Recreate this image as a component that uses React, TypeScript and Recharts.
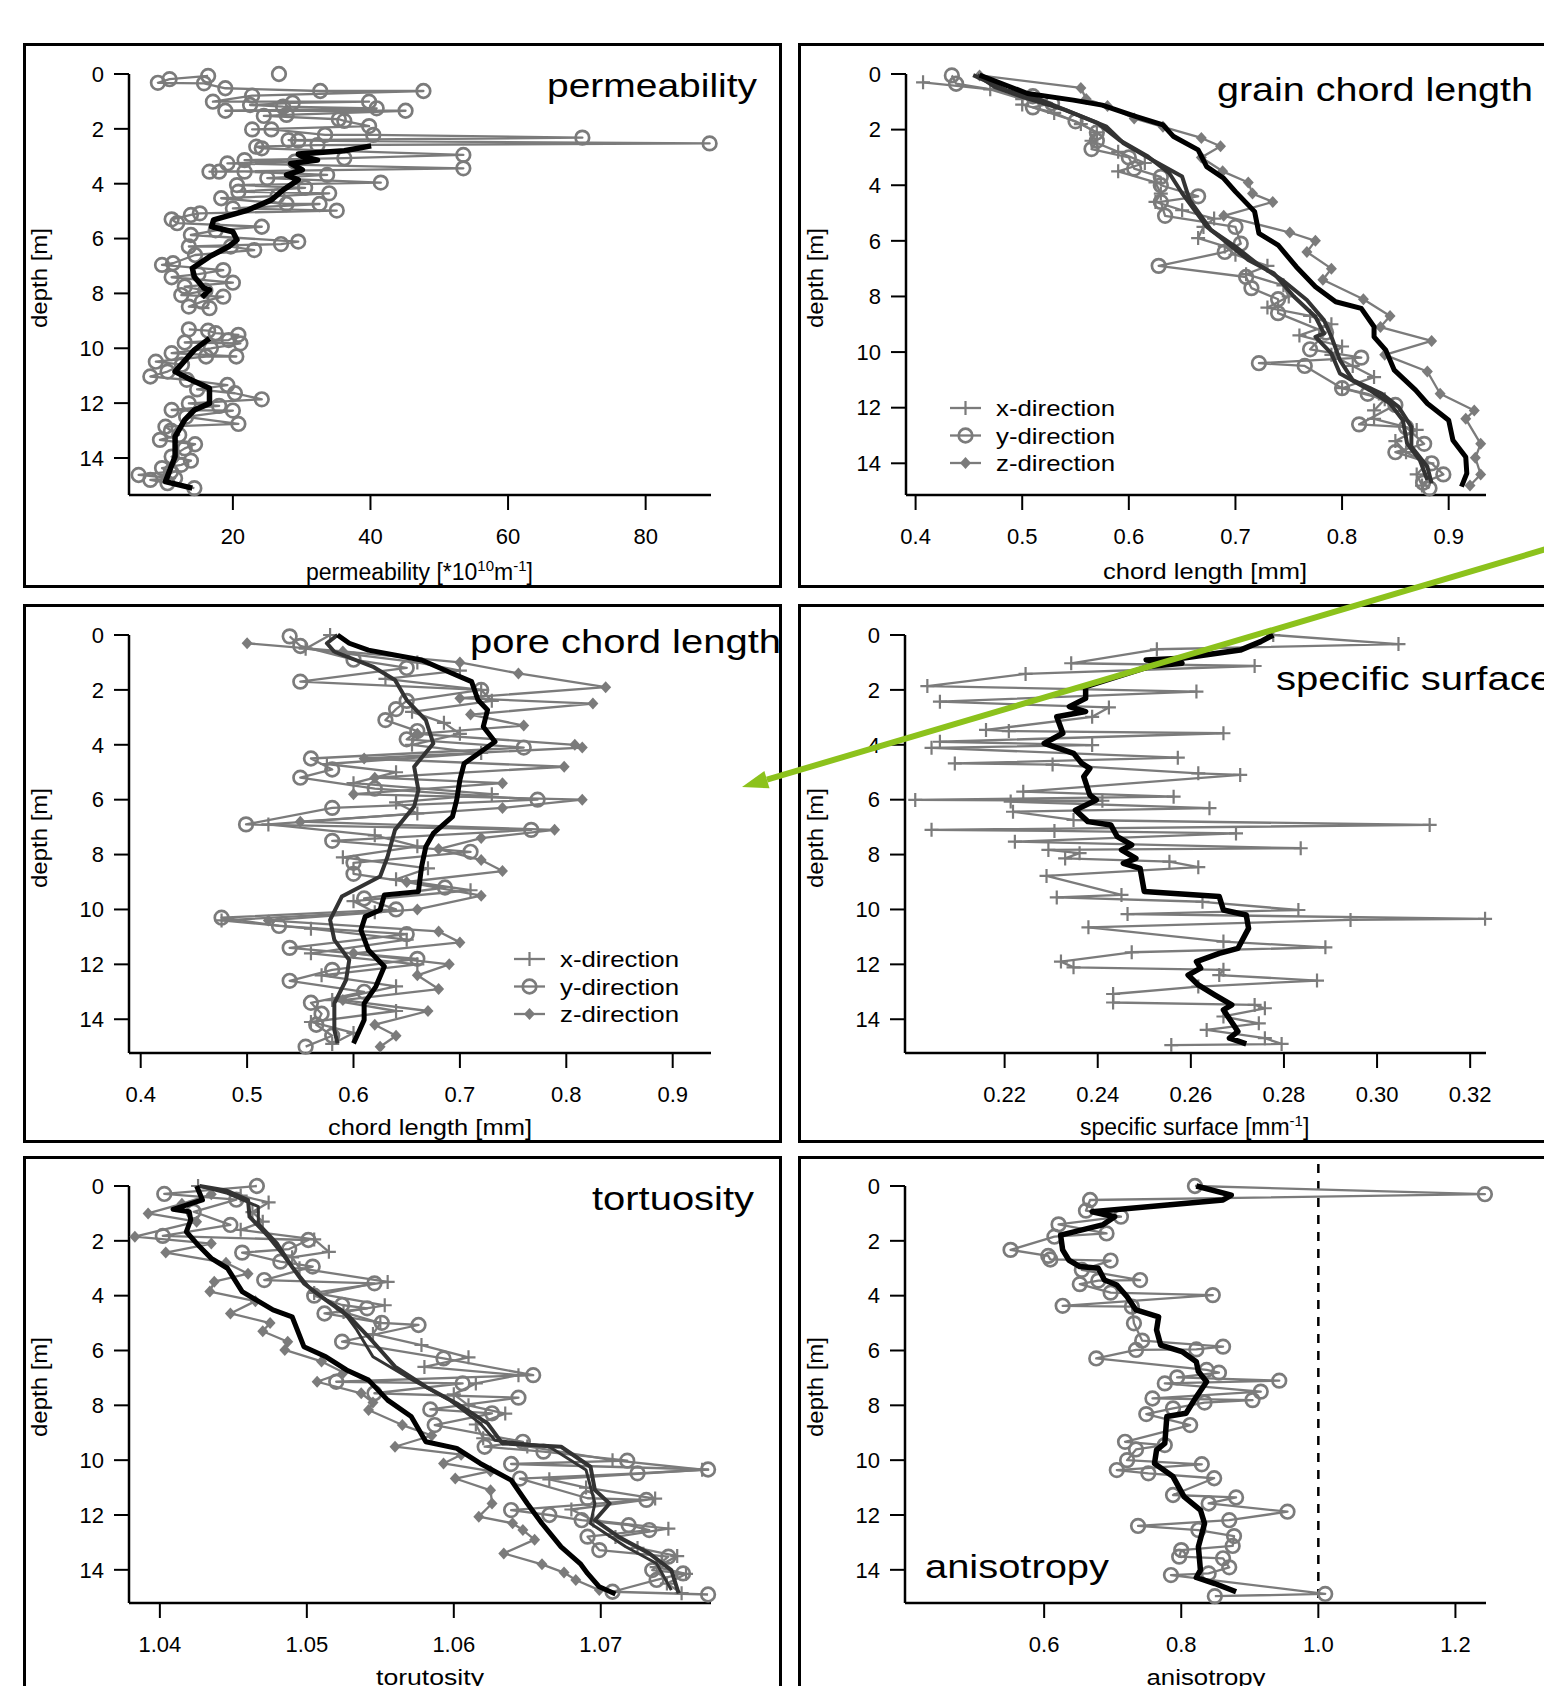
import React from 'react';
import { ScatterChart, Scatter, XAxis, YAxis, ReferenceLine } from 'recharts';

const FONT = '"Liberation Sans", Arial, Helvetica, sans-serif';
const GRAY = '#7b7b7b';
const DARK = '#333333';

type Pair = [number, number]; // [depth in m, value]

const depthTicks = [0, 2, 4, 6, 8, 10, 12, 14];

// ---- permeability ----
const permTicks = [20, 40, 60, 80];
const permSingle: Pair[] = [[0.0, 26.7]];
const permUpper: Pair[] = [
  [0.07, 16.4], [0.19, 10.8], [0.32, 9.1], [0.34, 15.8], [0.52, 18.9], [0.62, 32.7], [0.62, 47.7], [0.79, 22.8],
  [1.01, 17.1], [1.01, 39.8], [1.05, 28.7], [1.13, 22.5], [1.19, 27.3], [1.25, 40.9], [1.34, 18.9], [1.34, 45.1],
  [1.49, 27.8], [1.53, 24.5], [1.65, 35.4], [1.71, 36.2], [1.9, 39.8], [2.02, 22.8], [2.02, 25.6], [2.22, 33.4],
  [2.22, 40.4], [2.32, 70.8], [2.41, 28.1], [2.43, 29.5], [2.53, 89.3], [2.59, 32.3], [2.65, 23.4], [2.71, 24.2],
  [2.95, 53.5], [3.07, 36.2], [3.14, 21.7], [3.2, 29.0], [3.26, 19.2], [3.44, 53.5], [3.56, 16.6], [3.56, 18.0],
  [3.56, 21.7], [3.68, 33.7], [3.8, 25.0], [3.96, 41.5], [4.05, 20.6], [4.15, 30.5], [4.29, 20.8], [4.35, 34.0],
  [4.45, 26.5], [4.53, 18.3], [4.74, 27.8], [4.74, 32.6], [4.9, 20.0], [4.98, 35.1], [5.08, 15.2], [5.14, 13.9],
  [5.3, 11.1], [5.44, 11.9], [5.57, 24.2], [5.7, 17.5], [5.87, 13.9], [6.11, 29.5], [6.2, 27.0], [6.29, 13.6],
  [6.29, 19.7], [6.42, 23.1], [6.6, 14.5], [6.9, 11.3], [6.96, 9.7], [7.15, 18.6], [7.3, 15.0], [7.41, 11.1],
  [7.61, 20.0], [7.75, 13.0], [7.9, 16.0], [8.06, 12.5], [8.12, 18.6], [8.3, 15.5], [8.48, 13.6], [8.54, 16.6],
];
const permLower: Pair[] = [
  [9.31, 13.6], [9.36, 16.4], [9.45, 17.5], [9.51, 20.8], [9.7, 19.4], [9.79, 13.0], [9.82, 21.1], [10.0, 16.8],
  [10.18, 11.1], [10.3, 20.5], [10.3, 16.1], [10.49, 8.8], [10.6, 12.6], [10.85, 10.5], [11.03, 8.0], [11.15, 13.3],
  [11.34, 19.2], [11.5, 14.8], [11.64, 20.3], [11.86, 24.2], [12.01, 13.6], [12.1, 18.0], [12.25, 11.1], [12.27, 20.0],
  [12.5, 13.2], [12.76, 20.8], [12.86, 10.2], [13.0, 11.0], [13.16, 12.2], [13.34, 9.4], [13.5, 14.5], [13.65, 13.0],
  [13.95, 11.1], [14.1, 13.9], [14.25, 12.5], [14.37, 9.7], [14.5, 11.0], [14.62, 6.3], [14.74, 11.6], [14.8, 8.0],
  [14.92, 10.5], [15.1, 14.4],
];
const permMeanUpper: Pair[] = [
  [2.62, 40.1], [2.8, 36.2], [2.92, 29.5], [3.0, 30.0], [3.14, 32.3], [3.26, 28.4], [3.5, 30.1], [3.68, 27.8],
  [3.86, 29.5], [4.23, 27.3], [4.59, 25.6], [4.96, 22.2], [5.32, 17.2], [5.57, 16.9], [5.75, 20.0], [6.05, 20.6],
  [6.29, 19.4], [6.66, 16.6], [7.08, 14.1], [7.39, 14.4], [7.81, 15.8], [7.87, 16.6], [8.14, 15.5],
];
const permMeanLower: Pair[] = [
  [9.64, 16.6], [10.06, 14.4], [10.85, 11.6], [11.15, 13.9], [11.46, 16.6], [12.01, 16.6], [12.25, 14.4],
  [12.61, 13.0], [13.22, 11.6], [13.95, 11.6], [14.86, 10.2], [15.1, 14.1],
];

// ---- grain chord length ----
const chordTicks = [0.4, 0.5, 0.6, 0.7, 0.8, 0.9];
const grainX: Pair[] = [
  [0.3, 0.407], [0.55, 0.47], [0.9, 0.5], [1.1, 0.5], [1.4, 0.53], [1.8, 0.555], [2.1, 0.57], [2.4, 0.565],
  [2.8, 0.59], [3.2, 0.615], [3.5, 0.59], [3.9, 0.625], [4.3, 0.63], [4.6, 0.625], [4.9, 0.65], [5.2, 0.68],
  [5.5, 0.67], [5.9, 0.665], [6.2, 0.69], [6.5, 0.7], [6.9, 0.73], [7.2, 0.71], [7.6, 0.745], [8.0, 0.75],
  [8.4, 0.73], [8.7, 0.77], [9.0, 0.79], [9.4, 0.76], [9.8, 0.8], [10.1, 0.79], [10.5, 0.81], [10.9, 0.83],
  [11.3, 0.8], [11.7, 0.84], [12.1, 0.83], [12.4, 0.83], [12.8, 0.87], [13.2, 0.85], [13.6, 0.86], [14.0, 0.88],
  [14.4, 0.87], [14.8, 0.875],
];
const grainY: Pair[] = [
  [0.05, 0.434], [0.35, 0.438], [0.8, 0.51], [1.05, 0.528], [1.2, 0.51], [1.7, 0.55], [2.1, 0.57], [2.4, 0.57],
  [2.7, 0.565], [3.0, 0.6], [3.4, 0.605], [3.7, 0.63], [4.0, 0.63], [4.4, 0.665], [4.6, 0.63], [5.1, 0.634],
  [5.5, 0.7], [6.1, 0.705], [6.4, 0.69], [6.9, 0.628], [7.3, 0.71], [7.7, 0.715], [8.1, 0.74], [8.6, 0.74],
  [9.3, 0.785], [9.9, 0.77], [10.2, 0.818], [10.4, 0.722], [10.5, 0.765], [11.3, 0.8], [11.5, 0.824], [11.9, 0.85],
  [12.6, 0.816], [12.7, 0.86], [13.3, 0.877], [13.6, 0.85], [14.0, 0.884], [14.4, 0.895], [14.7, 0.876], [14.9, 0.882],
];
const grainZ: Pair[] = [
  [0.05, 0.46], [0.5, 0.555], [0.9, 0.56], [1.15, 0.58], [1.6, 0.605], [1.9, 0.632], [2.3, 0.668], [2.6, 0.686],
  [3.0, 0.668], [3.5, 0.688], [3.9, 0.712], [4.3, 0.716], [4.6, 0.735], [5.1, 0.689], [5.7, 0.751], [6.0, 0.775],
  [6.4, 0.767], [7.0, 0.79], [7.4, 0.782], [8.1, 0.82], [8.7, 0.845], [9.1, 0.836], [9.6, 0.884], [10.1, 0.84],
  [10.7, 0.88], [11.5, 0.892], [12.1, 0.924], [12.4, 0.916], [13.3, 0.93], [13.8, 0.925], [14.4, 0.93], [14.8, 0.92],
];
const grainMeanX: Pair[] = [
  [0.04, 0.458], [0.46, 0.474], [0.82, 0.5], [1.29, 0.54], [1.77, 0.571], [2.37, 0.591], [2.97, 0.618], [3.57, 0.638],
  [4.29, 0.65], [5.49, 0.673], [5.85, 0.685], [6.69, 0.712], [7.17, 0.736], [8.01, 0.755], [8.73, 0.775], [9.33, 0.783],
  [9.45, 0.775], [10.05, 0.79], [10.77, 0.798], [11.37, 0.826], [11.85, 0.845], [12.45, 0.857], [13.29, 0.861],
  [13.89, 0.873], [14.6, 0.88],
];
const grainMeanY: Pair[] = [
  [0.04, 0.454], [0.58, 0.485], [0.93, 0.517], [1.47, 0.552], [1.89, 0.579], [2.49, 0.595], [3.09, 0.622], [3.69, 0.65],
  [4.53, 0.657], [5.61, 0.677], [6.21, 0.7], [6.81, 0.72], [7.41, 0.744], [8.13, 0.767], [8.85, 0.783], [9.45, 0.79],
  [10.29, 0.798], [11.01, 0.81], [11.49, 0.837], [11.97, 0.853], [12.69, 0.865], [13.4, 0.865], [14.12, 0.88], [14.72, 0.884],
];
const grainMeanZ: Pair[] = [
  [0.04, 0.46], [0.7, 0.505], [0.94, 0.548], [1.12, 0.575], [1.53, 0.607], [1.83, 0.632], [2.25, 0.642], [2.73, 0.665],
  [3.33, 0.673], [3.75, 0.689], [4.23, 0.7], [4.95, 0.718], [5.73, 0.722], [6.15, 0.74], [6.93, 0.757], [7.65, 0.775],
  [8.19, 0.794], [8.43, 0.818], [9.09, 0.83], [9.45, 0.83], [9.93, 0.841], [10.65, 0.849], [11.37, 0.869], [11.85, 0.88],
  [12.45, 0.9], [13.17, 0.904], [13.77, 0.916], [14.36, 0.917], [14.84, 0.912],
];

// ---- pore chord length ----
const poreX: Pair[] = [
  [0.0, 0.578], [0.5, 0.555], [1.0, 0.66], [1.3, 0.7], [1.6, 0.63], [2.0, 0.72], [2.4, 0.73], [2.8, 0.655],
  [3.2, 0.685], [3.6, 0.7], [4.0, 0.655], [4.3, 0.72], [4.7, 0.575], [5.0, 0.64], [5.4, 0.6], [5.8, 0.73],
  [6.1, 0.64], [6.5, 0.66], [6.9, 0.52], [7.3, 0.62], [7.7, 0.66], [8.1, 0.59], [8.5, 0.67], [8.9, 0.64],
  [9.3, 0.71], [9.7, 0.6], [10.1, 0.62], [10.4, 0.476], [10.7, 0.56], [11.1, 0.65], [11.6, 0.56], [12.0, 0.66],
  [12.4, 0.57], [12.8, 0.64], [13.3, 0.58], [13.7, 0.64], [14.1, 0.56], [14.5, 0.6], [14.9, 0.58],
];
const poreY: Pair[] = [
  [0.05, 0.54], [0.4, 0.55], [0.9, 0.6], [1.2, 0.65], [1.7, 0.55], [2.0, 0.72], [2.4, 0.65], [2.7, 0.64],
  [3.1, 0.63], [3.5, 0.66], [3.8, 0.65], [4.1, 0.76], [4.5, 0.56], [4.9, 0.58], [5.2, 0.55], [5.6, 0.62],
  [6.0, 0.773], [6.3, 0.58], [6.9, 0.499], [7.1, 0.767], [7.5, 0.58], [7.9, 0.71], [8.3, 0.6], [8.7, 0.6],
  [9.2, 0.686], [9.6, 0.61], [10.0, 0.64], [10.3, 0.476], [10.6, 0.53], [10.9, 0.65], [11.4, 0.54], [11.8, 0.66],
  [12.2, 0.58], [12.6, 0.54], [13.0, 0.61], [13.4, 0.56], [13.8, 0.57], [14.2, 0.565], [14.6, 0.58], [15.0, 0.555],
];
const poreZ: Pair[] = [
  [0.3, 0.5], [0.6, 0.59], [1.0, 0.7], [1.4, 0.755], [1.9, 0.837], [2.3, 0.7], [2.5, 0.825], [2.9, 0.71],
  [3.3, 0.76], [3.6, 0.66], [4.0, 0.808], [4.1, 0.815], [4.5, 0.61], [4.8, 0.798], [5.2, 0.62], [5.4, 0.74],
  [5.8, 0.6], [6.0, 0.815], [6.3, 0.74], [6.8, 0.55], [7.1, 0.789], [7.4, 0.72], [7.8, 0.68], [8.2, 0.72],
  [8.6, 0.74], [9.0, 0.65], [9.5, 0.72], [10.0, 0.66], [10.4, 0.52], [10.8, 0.68], [11.2, 0.7], [11.6, 0.6],
  [12.0, 0.69], [12.4, 0.66], [12.9, 0.68], [13.3, 0.59], [13.7, 0.67], [14.2, 0.62], [14.6, 0.64], [15.0, 0.625],
];
const poreMeanDark: Pair[] = [
  [0.0, 0.585], [0.3, 0.575], [0.61, 0.582], [1.15, 0.618], [1.64, 0.639], [2.37, 0.65], [3.1, 0.668], [3.95, 0.675],
  [4.8, 0.657], [5.65, 0.661], [6.25, 0.657], [7.1, 0.639], [8.08, 0.632], [8.8, 0.625], [9.53, 0.589], [10.38, 0.578],
  [11.11, 0.582], [11.84, 0.596], [12.57, 0.593], [13.42, 0.582], [14.39, 0.582], [14.88, 0.585],
];
const poreMeanBlack: Pair[] = [
  [0.0, 0.585], [0.3, 0.596], [0.55, 0.614], [0.91, 0.664], [1.4, 0.693], [1.7, 0.711], [2.37, 0.717], [2.73, 0.726],
  [3.34, 0.722], [3.89, 0.733], [4.68, 0.704], [5.28, 0.7], [6.01, 0.697], [6.62, 0.693], [7.23, 0.675], [7.71, 0.668],
  [8.44, 0.664], [9.35, 0.661], [9.47, 0.629], [10.02, 0.625], [10.26, 0.611], [10.75, 0.607], [11.48, 0.614],
  [12.08, 0.629], [12.81, 0.621], [13.42, 0.61], [14.03, 0.61], [14.63, 0.603], [14.88, 0.6],
];

// ---- specific surface ----
const surfTicks = [0.22, 0.24, 0.26, 0.28, 0.3, 0.32];
const surfRaw: Pair[] = [
  [0.0, 0.2777], [0.33, 0.3046], [0.52, 0.2527], [1.03, 0.2343], [1.13, 0.2737], [1.42, 0.2245], [1.86, 0.2034],
  [2.06, 0.2612], [2.43, 0.2061], [2.64, 0.2424], [2.98, 0.2388], [3.46, 0.216], [3.5, 0.2209], [3.58, 0.267],
  [3.89, 0.2061], [4.01, 0.2388], [4.11, 0.2043], [4.47, 0.2572], [4.68, 0.2093], [4.72, 0.2303], [5.04, 0.2616],
  [5.1, 0.2706], [5.71, 0.224], [5.89, 0.2563], [6.01, 0.2008], [6.04, 0.241], [6.07, 0.2213], [6.31, 0.264],
  [6.44, 0.2218], [6.74, 0.2348], [6.92, 0.3113], [7.1, 0.2043], [7.14, 0.2307], [7.23, 0.2697], [7.53, 0.2222],
  [7.77, 0.2836], [7.83, 0.2294], [7.95, 0.2361], [8.14, 0.233], [8.26, 0.2554], [8.46, 0.2616], [8.78, 0.229],
  [9.47, 0.2451], [9.56, 0.2312], [9.72, 0.2625], [10.02, 0.2831], [10.17, 0.2464], [10.34, 0.3232], [10.38, 0.2943],
  [10.65, 0.238], [11.17, 0.267], [11.38, 0.2889], [11.56, 0.2473], [11.9, 0.2321], [12.11, 0.2348], [12.2, 0.267],
  [12.39, 0.2661], [12.59, 0.2871], [12.81, 0.2616], [13.08, 0.2433], [13.39, 0.2433], [13.48, 0.2737], [13.6, 0.2759],
  [13.9, 0.267], [14.15, 0.2746], [14.39, 0.2634], [14.69, 0.2759], [14.9, 0.2795], [14.94, 0.2558],
];
const surfMean: Pair[] = [
  [0.0, 0.2777], [0.24, 0.275], [0.55, 0.2706], [0.85, 0.2581], [0.91, 0.2504], [1.03, 0.2581], [1.15, 0.251],
  [1.88, 0.2374], [2.31, 0.2374], [2.61, 0.2339], [2.79, 0.2374], [2.98, 0.2312], [3.58, 0.2325], [3.95, 0.2285],
  [4.31, 0.2348], [4.68, 0.2366], [4.86, 0.2383], [5.16, 0.237], [5.83, 0.2383], [6.01, 0.2397], [6.38, 0.2352],
  [6.8, 0.2379], [6.92, 0.2428], [7.35, 0.2442], [7.65, 0.2473], [7.83, 0.2451], [8.14, 0.2482], [8.32, 0.2455],
  [8.5, 0.2491], [9.35, 0.25], [9.53, 0.2661], [10.02, 0.267], [10.2, 0.2719], [10.69, 0.2724], [11.42, 0.2701],
  [11.6, 0.2661], [11.9, 0.2612], [12.14, 0.2621], [12.39, 0.2594], [12.75, 0.2616], [13.12, 0.2652], [13.48, 0.2688],
  [13.66, 0.267], [14.21, 0.2692], [14.45, 0.2701], [14.69, 0.2683], [14.9, 0.2719],
];

// ---- tortuosity ----
const tortTicks = [1.04, 1.05, 1.06, 1.07];
const tortX: Pair[] = [
  [0.0, 1.0426], [0.35, 1.0455], [0.6, 1.0474], [0.95, 1.0463], [1.3, 1.047], [1.6, 1.0455], [1.95, 1.0505],
  [2.4, 1.0515], [2.6, 1.049], [3.0, 1.0495], [3.5, 1.0555], [3.9, 1.0505], [4.35, 1.0553], [4.6, 1.0525],
  [5.0, 1.055], [5.4, 1.0545], [5.8, 1.0578], [6.25, 1.061], [6.6, 1.058], [6.9, 1.0644], [7.2, 1.0615],
  [7.6, 1.06], [8.0, 1.061], [8.3, 1.0635], [8.7, 1.0615], [9.2, 1.062], [9.5, 1.065], [10.0, 1.0708],
  [10.35, 1.0769], [10.7, 1.0665], [11.0, 1.069], [11.4, 1.0737], [11.8, 1.068], [12.2, 1.0695], [12.5, 1.0746],
  [12.8, 1.071], [13.2, 1.0725], [13.5, 1.0752], [13.9, 1.0738], [14.15, 1.0758], [14.5, 1.0745], [14.85, 1.0755],
];
const tortY: Pair[] = [
  [0.0, 1.0466], [0.29, 1.0403], [0.5, 1.0452], [0.94, 1.0423], [1.42, 1.0448], [1.82, 1.0402], [1.97, 1.0501],
  [2.3, 1.0488], [2.43, 1.0456], [2.76, 1.0482], [2.94, 1.0504], [3.43, 1.0471], [3.55, 1.0546], [4.0, 1.0505],
  [4.34, 1.0524], [4.46, 1.0541], [4.65, 1.0512], [4.99, 1.0551], [5.07, 1.0576], [5.68, 1.0524], [6.29, 1.0593],
  [6.9, 1.0654], [7.14, 1.052], [7.2, 1.0606], [7.56, 1.0546], [7.72, 1.0644], [8.15, 1.0584], [8.29, 1.0626],
  [8.72, 1.0587], [9.33, 1.0647], [9.51, 1.0621], [9.69, 1.0661], [10.02, 1.0718], [10.14, 1.0639], [10.34, 1.0773],
  [10.48, 1.0725], [10.67, 1.0645], [11.39, 1.0691], [11.45, 1.0731], [11.82, 1.0639], [12.0, 1.0665], [12.19, 1.0687],
  [12.37, 1.0719], [12.55, 1.0733], [12.79, 1.0691], [13.28, 1.0699], [13.52, 1.0746], [14.01, 1.0735], [14.13, 1.0756],
  [14.37, 1.0738], [14.8, 1.0708], [14.9, 1.0773],
];
const tortZ: Pair[] = [
  [0.3, 1.0435], [0.65, 1.0415], [1.0, 1.0392], [1.3, 1.0425], [1.85, 1.0383], [2.1, 1.0435], [2.43, 1.0404],
  [2.8, 1.0445], [3.2, 1.046], [3.49, 1.0437], [3.85, 1.0434], [4.2, 1.0465], [4.65, 1.0448], [5.0, 1.0475],
  [5.3, 1.047], [5.68, 1.0487], [5.98, 1.0485], [6.4, 1.051], [6.8, 1.0525], [7.14, 1.0507], [7.56, 1.0537],
  [7.9, 1.0545], [8.17, 1.0542], [8.72, 1.0565], [9.1, 1.0585], [9.51, 1.056], [9.8, 1.0605], [10.12, 1.0593],
  [10.4, 1.0625], [10.67, 1.0601], [11.1, 1.0625], [11.58, 1.0626], [12.06, 1.0617], [12.3, 1.064], [12.55, 1.0647],
  [12.9, 1.0655], [13.4, 1.0634], [13.8, 1.066], [14.1, 1.0675], [14.37, 1.0683], [14.74, 1.0699],
];
const tortMeanA: Pair[] = [
  [0.0, 1.0427], [0.16, 1.0445], [0.51, 1.046], [1.12, 1.0461], [1.85, 1.0474], [2.58, 1.0485], [3.55, 1.0498],
  [4.16, 1.0513], [4.77, 1.0529], [5.5, 1.0542], [6.59, 1.056], [7.32, 1.0581], [7.93, 1.0602], [8.66, 1.0623],
  [9.39, 1.0633], [9.51, 1.0673], [10.24, 1.0693], [11.09, 1.0696], [11.58, 1.0706], [12.19, 1.0696], [12.79, 1.0712],
  [13.4, 1.0733], [14.01, 1.0748], [14.86, 1.0753],
];
const tortMeanB: Pair[] = [
  [0.0, 1.0427], [0.27, 1.0446], [0.75, 1.0467], [1.36, 1.0467], [2.09, 1.048], [2.94, 1.049], [3.79, 1.0503],
  [4.52, 1.0524], [5.25, 1.0534], [6.23, 1.0545], [6.96, 1.0568], [7.81, 1.0597], [8.66, 1.0618], [9.27, 1.0628],
  [9.51, 1.0665], [10.36, 1.069], [11.58, 1.0696], [12.31, 1.0693], [13.16, 1.0717], [13.77, 1.0738], [14.74, 1.0748],
];
const tortMeanC: Pair[] = [
  [0.0, 1.0425], [0.51, 1.0429], [0.85, 1.0409], [0.94, 1.042], [1.24, 1.0421], [1.67, 1.0418], [2.21, 1.0427],
  [2.64, 1.0435], [3.0, 1.0446], [3.85, 1.0456], [4.52, 1.0477], [4.77, 1.049], [5.86, 1.0498], [6.23, 1.0513],
  [6.71, 1.0527], [7.08, 1.0542], [7.81, 1.0555], [8.41, 1.0571], [9.33, 1.0581], [9.57, 1.0602], [10.12, 1.0618],
  [10.73, 1.0639], [11.58, 1.065], [12.31, 1.066], [13.16, 1.0673], [13.77, 1.0686], [14.13, 1.0691], [14.62, 1.0699],
  [14.88, 1.071],
];

// ---- anisotropy ----
const anisoTicks = [0.6, 0.8, 1.0, 1.2];
const anisoRaw: Pair[] = [
  [0.0, 0.82], [0.3, 1.243], [0.51, 0.667], [0.9, 0.661], [1.12, 0.712], [1.4, 0.621], [1.73, 0.691], [1.85, 0.615],
  [2.33, 0.551], [2.55, 0.606], [2.68, 0.609], [2.72, 0.697], [3.06, 0.655], [3.43, 0.74], [3.45, 0.679], [3.58, 0.652],
  [3.89, 0.697], [3.98, 0.846], [4.37, 0.627], [4.4, 0.728], [5.01, 0.731], [5.64, 0.743], [5.86, 0.861], [5.96, 0.822],
  [5.98, 0.734], [6.29, 0.676], [6.71, 0.837], [6.81, 0.855], [6.98, 0.794], [7.1, 0.943], [7.2, 0.776], [7.5, 0.916],
  [7.75, 0.758], [7.81, 0.904], [7.9, 0.834], [8.11, 0.788], [8.32, 0.749], [8.72, 0.813], [9.33, 0.718], [9.45, 0.776],
  [9.61, 0.734], [10.0, 0.721], [10.15, 0.83], [10.36, 0.706], [10.48, 0.752], [10.66, 0.848], [11.27, 0.788],
  [11.36, 0.88], [11.58, 0.84], [11.88, 0.955], [12.19, 0.87], [12.4, 0.737], [12.55, 0.825], [12.77, 0.877],
  [13.13, 0.875], [13.28, 0.8], [13.52, 0.797], [13.58, 0.861], [13.91, 0.87], [14.13, 0.84], [14.19, 0.785],
  [14.88, 1.01], [14.96, 0.849],
];
const anisoMean: Pair[] = [
  [0.0, 0.822], [0.33, 0.873], [0.51, 0.861], [0.94, 0.67], [1.12, 0.703], [1.42, 0.685], [1.79, 0.624], [2.33, 0.627],
  [2.7, 0.636], [2.94, 0.652], [3.0, 0.679], [3.43, 0.688], [3.61, 0.706], [4.04, 0.721], [4.52, 0.734], [4.77, 0.767],
  [5.25, 0.764], [5.8, 0.77], [6.04, 0.801], [6.41, 0.822], [6.77, 0.825], [7.14, 0.837], [7.69, 0.822], [8.29, 0.807],
  [8.41, 0.779], [9.39, 0.776], [9.63, 0.764], [10.12, 0.761], [10.6, 0.788], [11.33, 0.804], [11.82, 0.828],
  [12.31, 0.834], [13.16, 0.825], [14.01, 0.828], [14.28, 0.822], [14.5, 0.849], [14.8, 0.88],
];

const legendRows = ['x-direction', 'y-direction', 'z-direction'];

type Mark = 'o' | '+' | 'd' | 'none';
interface Layer { data: Pair[]; mark: Mark; color: string; width: number; noLine?: boolean }

const toPts = (a: Pair[]) => a.map(([d, v]) => ({ d, v }));

function drawMark(kind: Mark, cx: number, cy: number) {
  if (kind === 'o') return <circle cx={cx} cy={cy} r={6.8} fill="none" stroke={GRAY} strokeWidth={2.7} />;
  if (kind === '+') return <path d={`M${cx - 7},${cy}h14M${cx},${cy - 7}v14`} stroke={GRAY} strokeWidth={2.2} />;
  if (kind === 'd') return <path d={`M${cx},${cy - 6}l5.5,6l-5.5,6l-5.5,-6z`} fill={GRAY} />;
  return <g />;
}

const shapeFor = (kind: Mark) => (p: any) =>
  p.cx == null ? <g /> : drawMark(kind, p.cx, p.cy);

interface PanelProps {
  box: [number, number, number, number];
  plot: [number, number, number, number];
  xDomain: [number, number];
  yMax: number;
  xTicks: number[];
  fmt: (v: number) => string;
  layers: Layer[];
  dashedAt?: number;
}

const tickStyle = { fontSize: 22, fill: '#000', fontFamily: FONT };

function Panel({ box, plot, xDomain, yMax, xTicks, fmt, layers, dashedAt }: PanelProps) {
  const [bx, by, bw, bh] = box;
  const [pl, pt, pr, pb] = plot;
  const XH = 60;
  const YW = 60;
  const margin = { top: pt - by, left: pl - bx - YW, right: bx + bw - pr, bottom: by + bh - pb - XH };
  return (
    <>
      <div style={{ position: 'absolute', left: bx, top: by, width: bw, height: bh, border: '3px solid #000', boxSizing: 'border-box' }} />
      <div style={{ position: 'absolute', left: bx, top: by, zIndex: 1 }}>
        <ScatterChart width={bw} height={bh} margin={margin}>
          <XAxis
            type="number"
            dataKey="v"
            domain={xDomain}
            ticks={xTicks}
            interval={0}
            tickFormatter={fmt}
            height={XH}
            tickSize={15}
            tickMargin={18}
            axisLine={{ stroke: '#000', strokeWidth: 2.5 }}
            tickLine={{ stroke: '#000', strokeWidth: 2 }}
            tick={tickStyle}
          />
          <YAxis
            type="number"
            dataKey="d"
            reversed
            domain={[0, yMax]}
            ticks={depthTicks}
            interval={0}
            width={YW}
            tickSize={15}
            tickMargin={10}
            axisLine={{ stroke: '#000', strokeWidth: 2.5 }}
            tickLine={{ stroke: '#000', strokeWidth: 2 }}
            tick={tickStyle}
          />
          {dashedAt !== undefined && (
            <ReferenceLine
              segment={[{ x: dashedAt, y: -0.8 }, { x: dashedAt, y: yMax - 0.05 }]}
              stroke="#000"
              strokeWidth={2.5}
              strokeDasharray="9 8"
              ifOverflow="visible"
            />
          )}
          {layers.map((l, i) => (
            <Scatter
              key={i}
              data={toPts(l.data)}
              fill={GRAY}
              line={l.noLine ? false : { stroke: l.color, strokeWidth: l.width, strokeLinejoin: 'round' }}
              lineType="joint"
              shape={shapeFor(l.mark)}
              isAnimationActive={false}
            />
          ))}
        </ScatterChart>
      </div>
    </>
  );
}

function Legend({ x, y }: { x: number; y: number }) {
  const marks: Mark[] = ['+', 'o', 'd'];
  return (
    <g>
      {legendRows.map((t, i) => {
        const yy = y + i * 27.5;
        return (
          <g key={t}>
            <line x1={x} x2={x + 31} y1={yy} y2={yy} stroke={GRAY} strokeWidth={2.3} />
            {drawMark(marks[i], x + 15.5, yy)}
            <text x={x + 46} y={yy + 8} fontSize={22} textLength={119} lengthAdjust="spacingAndGlyphs" fill="#000">{t}</text>
          </g>
        );
      })}
    </g>
  );
}

export default function App() {
  const titles: [string, number, number, number][] = [
    ['permeability', 547, 97, 210],
    ['grain chord length', 1217, 101, 316],
    ['pore chord length', 470, 653, 311],
    ['specific surface', 1276, 690, 276],
    ['tortuosity', 592, 1210, 162],
    ['anisotropy', 925, 1578, 184],
  ];
  const depthLabels: [number, number][] = [[47, 278], [823, 278], [47, 838], [823, 838], [47, 1387], [823, 1387]];
  const ax = Math.atan2(787 - 545, 742 - 1560);
  const ux = Math.cos(ax), uy = Math.sin(ax);
  const bxp = 742 - 26 * ux, byp = 787 - 26 * uy;
  return (
    <div style={{ position: 'fixed', left: 0, top: 0, width: 1544, height: 1686, overflow: 'hidden', background: '#fff', fontFamily: FONT }}>
      <Panel box={[23, 43, 759, 545]} plot={[129, 74, 711, 495]} xDomain={[4.9, 89.5]} yMax={15.35} xTicks={permTicks}
        fmt={(v) => String(v)}
        layers={[
          { data: permUpper, mark: 'o', color: GRAY, width: 2.3 },
          { data: permLower, mark: 'o', color: GRAY, width: 2.3 },
          { data: permSingle, mark: 'o', color: GRAY, width: 2.3, noLine: true },
          { data: permMeanUpper, mark: 'none', color: '#000', width: 5.5 },
          { data: permMeanLower, mark: 'none', color: '#000', width: 5.5 },
        ]} />
      <Panel box={[798, 43, 759, 545]} plot={[906, 74, 1486, 495]} xDomain={[0.391, 0.935]} yMax={15.14} xTicks={chordTicks}
        fmt={(v) => v.toFixed(1)}
        layers={[
          { data: grainX, mark: '+', color: GRAY, width: 2.3 },
          { data: grainY, mark: 'o', color: GRAY, width: 2.3 },
          { data: grainZ, mark: 'd', color: GRAY, width: 2.3 },
          { data: grainMeanX, mark: 'none', color: DARK, width: 4 },
          { data: grainMeanY, mark: 'none', color: DARK, width: 4 },
          { data: grainMeanZ, mark: 'none', color: '#000', width: 5 },
        ]} />
      <Panel box={[23, 604, 759, 539]} plot={[129, 635, 711, 1053]} xDomain={[0.389, 0.936]} yMax={15.23} xTicks={chordTicks}
        fmt={(v) => v.toFixed(1)}
        layers={[
          { data: poreX, mark: '+', color: GRAY, width: 2.3 },
          { data: poreY, mark: 'o', color: GRAY, width: 2.3 },
          { data: poreZ, mark: 'd', color: GRAY, width: 2.3 },
          { data: poreMeanDark, mark: 'none', color: DARK, width: 4 },
          { data: poreMeanBlack, mark: 'none', color: '#000', width: 5 },
        ]} />
      <Panel box={[798, 604, 759, 539]} plot={[905, 635, 1486, 1053]} xDomain={[0.1986, 0.3234]} yMax={15.23} xTicks={surfTicks}
        fmt={(v) => v.toFixed(2)}
        layers={[
          { data: surfRaw, mark: '+', color: GRAY, width: 2.3 },
          { data: surfMean, mark: 'none', color: '#000', width: 5.5 },
        ]} />
      <Panel box={[23, 1156, 759, 545]} plot={[129, 1186, 711, 1603]} xDomain={[1.0379, 1.0775]} yMax={15.21} xTicks={tortTicks}
        fmt={(v) => v.toFixed(2)}
        layers={[
          { data: tortX, mark: '+', color: GRAY, width: 2.3 },
          { data: tortY, mark: 'o', color: GRAY, width: 2.3 },
          { data: tortZ, mark: 'd', color: GRAY, width: 2.3 },
          { data: tortMeanA, mark: 'none', color: DARK, width: 4 },
          { data: tortMeanB, mark: 'none', color: DARK, width: 3 },
          { data: tortMeanC, mark: 'none', color: '#000', width: 5 },
        ]} />
      <Panel box={[798, 1156, 759, 545]} plot={[905, 1186, 1486, 1603]} xDomain={[0.397, 1.2446]} yMax={15.21} xTicks={anisoTicks}
        fmt={(v) => v.toFixed(1)} dashedAt={1.0}
        layers={[
          { data: anisoRaw, mark: 'o', color: GRAY, width: 2.3 },
          { data: anisoMean, mark: 'none', color: '#000', width: 5.5 },
        ]} />

      <svg width={1544} height={1686} style={{ position: 'absolute', left: 0, top: 0, zIndex: 2, pointerEvents: 'none' }} fontFamily={FONT}>
        {titles.map(([t, x, y, w]) => (
          <text key={t} x={x} y={y} fontSize={34} textLength={w} lengthAdjust="spacingAndGlyphs" fill="#000">{t}</text>
        ))}
        {depthLabels.map(([x, y], i) => (
          <text key={i} transform={`translate(${x},${y}) rotate(-90)`} textAnchor="middle" fontSize={22} textLength={100} lengthAdjust="spacingAndGlyphs" fill="#000">depth [m]</text>
        ))}
        <text x={306} y={580} fontSize={23} fill="#000">
          permeability [*10<tspan dy={-9} fontSize={15}>10</tspan><tspan dy={9}>m</tspan><tspan dy={-9} fontSize={15}>-1</tspan><tspan dy={9}>]</tspan>
        </text>
        <text x={1205} y={579} textAnchor="middle" fontSize={22} textLength={204} lengthAdjust="spacingAndGlyphs" fill="#000">chord length [mm]</text>
        <text x={430} y={1135} textAnchor="middle" fontSize={22} textLength={204} lengthAdjust="spacingAndGlyphs" fill="#000">chord length [mm]</text>
        <text x={1080} y={1135} fontSize={23} fill="#000">
          specific surface [mm<tspan dy={-9} fontSize={15}>-1</tspan><tspan dy={9}>]</tspan>
        </text>
        <text x={430} y={1685} textAnchor="middle" fontSize={22} textLength={108} lengthAdjust="spacingAndGlyphs" fill="#000">torutosity</text>
        <text x={1206} y={1685} textAnchor="middle" fontSize={22} textLength={119} lengthAdjust="spacingAndGlyphs" fill="#000">anisotropy</text>
        <Legend x={950} y={408} />
        <Legend x={514} y={959} />
        <line x1={1560} y1={545} x2={bxp} y2={byp} stroke="#8cc21c" strokeWidth={6} />
        <polygon
          points={`742,787 ${bxp - 9 * uy},${byp + 9 * ux} ${bxp + 9 * uy},${byp - 9 * ux}`}
          fill="#8cc21c"
        />
      </svg>
    </div>
  );
}
